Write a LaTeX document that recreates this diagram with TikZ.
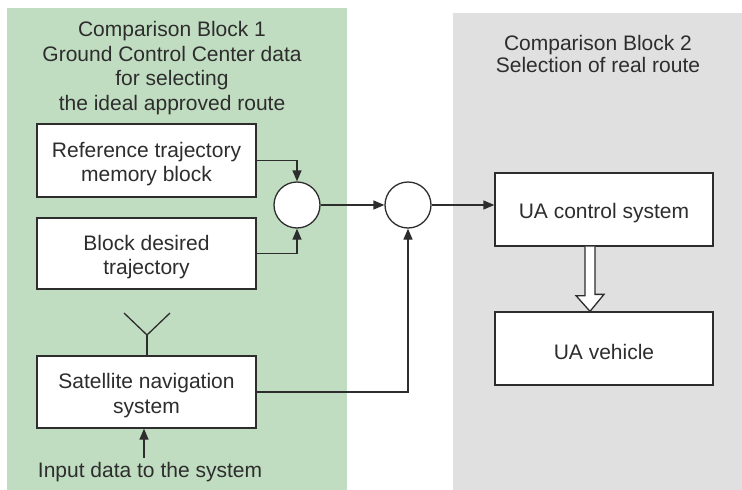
\documentclass[tikz,border=0pt]{standalone}
\usepackage{fontspec}
\setmainfont{Liberation Sans}
\usetikzlibrary{arrows.meta,calc}
\definecolor{panelgreen}{RGB}{193,221,193}
\definecolor{panelgray}{RGB}{224,224,224}
\definecolor{ink}{RGB}{45,45,45}
\newcommand{\topstrut}{\rule{0pt}{22pt}}

\begin{document}
\begin{tikzpicture}[x=1pt,y=-1pt,
  txt/.style={font=\fontsize{21}{24.5}\selectfont, text=ink, align=center},
  blk/.style={draw=ink, line width=1.3pt, fill=white, minimum width=219pt,
              minimum height=73pt, txt, inner sep=0pt},
  sumpt/.style={circle, draw=ink, line width=1.3pt, fill=white,
                minimum size=46pt, inner sep=0pt},
  wire/.style={draw=ink, line width=1.3pt},
  link/.style={wire, -{Triangle[length=11pt,width=9pt]}}]
\useasboundingbox (0,0) rectangle (742,490);
\fill[white] (0,0) rectangle (742,490);

% background panels
\fill[panelgreen] (7,8) rectangle (347,490);
\fill[panelgray] (453,13) rectangle (742,490);

% panel titles
\node[txt] (t1) at (172,68) {Comparison Block 1\\Ground Control Center data\\for selecting\\the ideal approved route};
\node[txt, font=\fontsize{21}{22.5}\selectfont] (t2) at (598,54) {Comparison Block 2\\Selection of real route};

% blocks
\node[blk] (ref) at (146.5,160.5) {\topstrut Reference trajectory\\memory block};
\node[blk, minimum height=71pt] (des) at (146.5,253.5) {\topstrut Block desired\\trajectory};
\node[blk, minimum height=72pt] (sat) at (146.5,392) {\topstrut Satellite navigation\\system};
\node[blk, minimum width=218pt] (ctl) at (604,209.5) {\topstrut UA control system};
\node[blk, minimum width=218pt] (veh) at (604,348.5) {\topstrut UA vehicle};

% summing points
\node[sumpt] (s1) at (297,205) {};
\node[sumpt] (s2) at (408,205) {};

% signal lines
\draw[link] (ref.east) -| (s1.north);
\draw[link] (des.east) -| (s1.south);
\draw[link] (s1.east) -- (s2.west);
\draw[link] (s2.east) -- (s2.east -| ctl.west);
\draw[link] (sat.east) -| (s2.south);

% antenna on the navigation block
\coordinate (ant) at (147,335);
\draw[wire] (ant |- sat.north) -- (ant);
\draw[wire] (124,313) -- (ant) -- (170,313);

% external input
\node[txt] (inp) at (150,472) {Input data to the system};
\coordinate (inx) at (144,458);
\draw[link] (inx) -- (inx |- sat.south);

% hollow arrow from control system to vehicle
\coordinate (ha) at (590,0);
\draw[wire, fill=white, line join=miter]
  ($(ha |- ctl.south)+(-5,0)$) -- ++(0,49) -- ++(-9,0) -- (ha |- veh.north)
  -- ++(14,-17) -- ++(-9,0) -- ($(ha |- ctl.south)+(5,0)$);
\end{tikzpicture}
\end{document}
